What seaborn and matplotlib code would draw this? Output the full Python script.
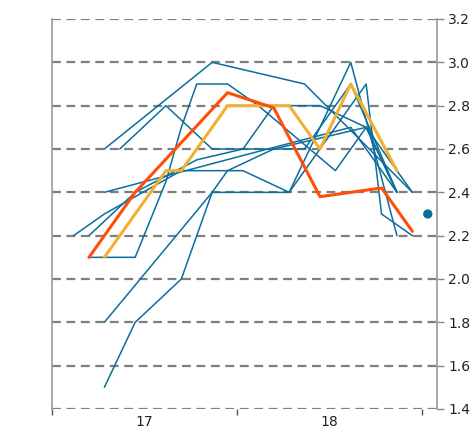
import numpy as np
import pandas as pd
import seaborn as sns
import matplotlib
matplotlib.use('Agg')
import matplotlib.pyplot as plt

# forecast paths (month index, value)
blue_paths = {
    'f1': ([2, 9, 15, 22], [2.6, 3.0, 2.9, 2.4]),
    'f2': ([3, 6, 9, 15, 18, 21], [2.6, 2.8, 2.6, 2.6, 2.9, 2.4]),
    'f3': ([1, 4, 6, 7, 8, 10, 12, 17, 19, 21], [2.1, 2.1, 2.45, 2.7, 2.9, 2.9, 2.8, 2.5, 2.7, 2.4]),
    'f4': ([2, 4, 7, 9, 14, 19, 20, 22], [1.5, 1.8, 2.0, 2.4, 2.4, 2.9, 2.3, 2.2]),
    'f5': ([2, 9, 10, 13, 16, 19, 21], [1.8, 2.4, 2.5, 2.6, 2.65, 2.7, 2.4]),
    'f6': ([0, 2, 7, 11, 14, 18, 21], [2.2, 2.3, 2.5, 2.5, 2.4, 3.0, 2.2]),
    'f7': ([1, 4, 8, 11, 13, 16, 19, 22], [2.2, 2.4, 2.55, 2.6, 2.8, 2.8, 2.7, 2.4]),
    'f8': ([2, 11, 18, 21], [2.4, 2.57, 2.7, 2.4]),
}
yellow_x = [2, 6, 7, 10, 14, 16, 18, 21]
yellow_y = [2.1, 2.5, 2.5, 2.8, 2.8, 2.6, 2.9, 2.5]
orange_x = [1, 4, 10, 13, 16, 20, 22]
orange_y = [2.1, 2.4, 2.86, 2.79, 2.38, 2.42, 2.22]
dot_x = [23]
dot_y = [2.3]

year_ticks = [-1.4, 10.6, 22.6]
year_label_pos = [4.6, 16.6]
year_labels = ['17', '18']
y_ticks = [1.4, 1.6, 1.8, 2.0, 2.2, 2.4, 2.6, 2.8, 3.0, 3.2]

blue = '#0b6e9c'
orange = '#ff4e0a'
yellow = '#f2b032'

rows = []
for name, (xs, ys) in blue_paths.items():
    for x, y in zip(xs, ys):
        rows.append({'line': name, 'month': x, 'value': y})
blue_df = pd.DataFrame(rows)
yellow_df = pd.DataFrame({'month': yellow_x, 'value': yellow_y})
orange_df = pd.DataFrame({'month': orange_x, 'value': orange_y})
dot_df = pd.DataFrame({'month': dot_x, 'value': dot_y})

sns.set_style('white')
plt.rcParams['font.family'] = ['DejaVu Sans']

fig = plt.figure(figsize=(4.77, 4.30), dpi=100)
ax = fig.add_axes([52 / 477, 21 / 430, 385 / 477, 390 / 430])

sns.lineplot(data=blue_df, x='month', y='value', units='line', estimator=None,
             color=blue, linewidth=1.1, ax=ax, legend=False)
sns.lineplot(data=yellow_df, x='month', y='value', color=yellow, linewidth=2.2, ax=ax)
sns.lineplot(data=orange_df, x='month', y='value', color=orange, linewidth=2.2, ax=ax)
sns.scatterplot(data=dot_df, x='month', y='value', color=blue, s=45, edgecolor='none', ax=ax)

ax.set_xlim(-1.4, 23.6)
ax.set_ylim(1.4, 3.2)
ax.set_xlabel('')
ax.set_ylabel('')

ax.set_yticks(y_ticks)
ax.set_yticklabels([f'{v:.1f}' for v in y_ticks])
ax.yaxis.tick_right()
ax.tick_params(axis='y', right=True, left=False, length=5, width=1, color='#888888',
               labelsize=10, labelcolor='#222222', pad=3)
ax.yaxis.grid(True, linestyle=(0, (4, 2.5)), color='#7f7f7f', linewidth=1.6)
ax.xaxis.grid(False)

ax.set_xticks(year_ticks)
ax.set_xticklabels(['', '', ''])
ax.set_xticks(year_label_pos, minor=True)
ax.set_xticklabels(year_labels, minor=True)
ax.tick_params(axis='x', which='major', bottom=True, length=4, width=1, color='#555555')
ax.tick_params(axis='x', which='minor', bottom=True, length=0, labelsize=10,
               labelcolor='#222222', pad=4)

for side in ['top', 'bottom']:
    ax.spines[side].set_visible(False)
for side in ['left', 'right']:
    ax.spines[side].set_visible(True)
    ax.spines[side].set_color('#9a9a9a')
    ax.spines[side].set_linewidth(1.2)

fig.savefig('out.png', dpi=100)
